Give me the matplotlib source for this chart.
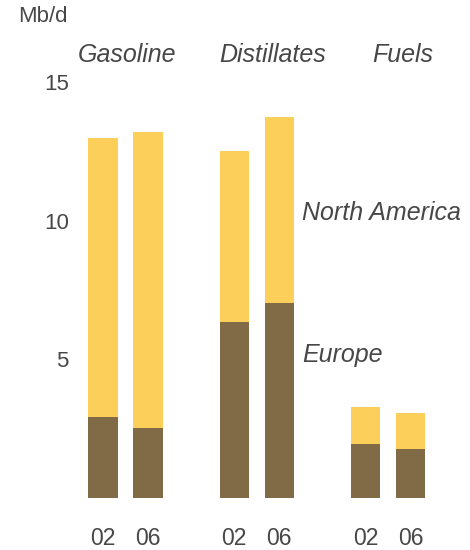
import matplotlib
matplotlib.use('Agg')
import matplotlib.pyplot as plt

# Dati (Mb/d)
products = ['Gasoline', 'Distillates', 'Fuels']
years = ['02', '06']
europe = [2.92, 2.52, 6.35, 7.03, 1.95, 1.77]
north_america = [10.06, 10.68, 6.16, 6.71, 1.33, 1.30]

plt.rcParams['font.family'] = ['Liberation Sans', 'DejaVu Sans']
text_color = '#474747'
dark = '#806b46'
yellow = '#fccf5a'

fig = plt.figure(figsize=(4.7, 5.5), dpi=100)
ax = fig.add_axes([80 / 470, 52 / 550, 390 / 470, 437 / 550])

# Posizioni delle barre: due anni per ogni prodotto
positions = []
for g in range(len(products)):
    for k in range(len(years)):
        positions.append(g * 2.92 + k)
width = 0.655

ax.bar(positions, europe, width=width, color=dark, label='Europe')
ax.bar(positions, north_america, width=width, bottom=europe, color=yellow, label='North America')

ax.set_xlim(-0.51, 8.16)
ax.set_ylim(0, 15.75)
ax.set_yticks([5, 10, 15])
ax.set_yticklabels(['5', '10', '15'])
ax.set_xticks(positions)
ax.set_xticklabels(years * len(products))
ax.tick_params(axis='y', length=0, pad=8, labelsize=16, colors=text_color)
ax.tick_params(axis='x', length=0, pad=21, labelsize=16.5, colors=text_color)

for spine in ax.spines.values():
    spine.set_visible(False)

# Etichette dei prodotti sopra i gruppi
label_x = [0.53, 3.78, 6.67]
for name, x in zip(products, label_x):
    ax.text(x, 15.97, name, ha='center', va='center', fontsize=18,
            style='italic', color=text_color, clip_on=False)

# Etichette delle serie
ax.text(4.42, 10.26, 'North America', ha='left', va='center', fontsize=18,
        style='italic', color=text_color, clip_on=False)
ax.text(4.42, 5.17, 'Europe', ha='left', va='center', fontsize=18,
        style='italic', color=text_color, clip_on=False)

fig.text(18 / 470, 1 - 17 / 550, 'Mb/d', ha='left', va='center', fontsize=16, color=text_color)

plt.savefig('out.png', dpi=100)
plt.close()
